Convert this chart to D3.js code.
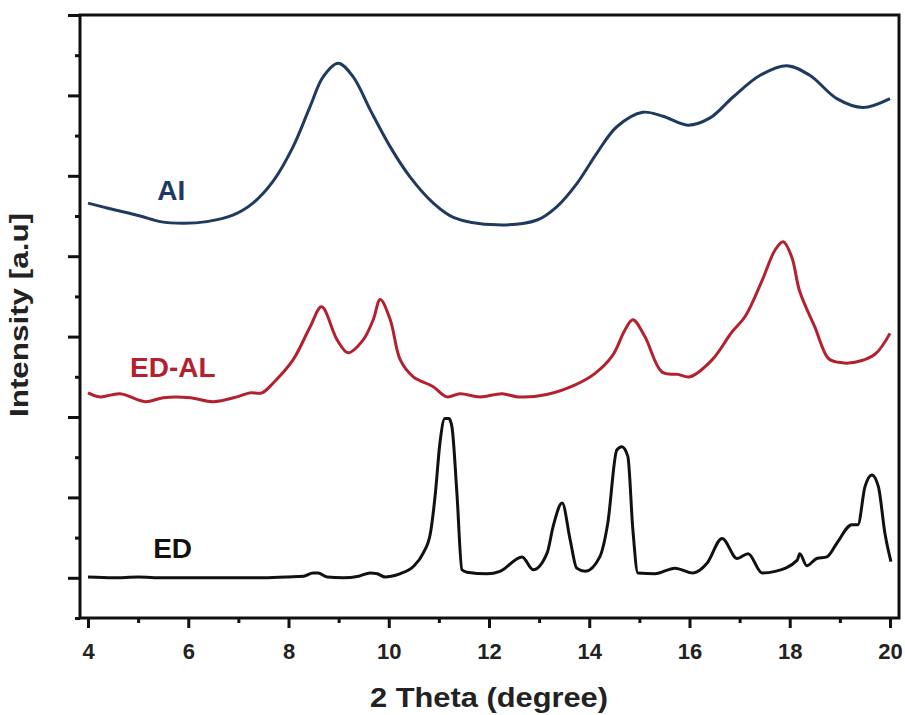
<!DOCTYPE html>
<html>
<head>
<meta charset="utf-8">
<script src="https://cdn.jsdelivr.net/npm/d3@7"></script>
<style>
  body { margin: 0; background: #fff; }
  #graf { width: 905px; height: 715px; }
  text { font-family: "Liberation Sans", Arial, sans-serif; font-weight: bold; }
</style>
</head>
<body>
<div id="graf"></div>
<script>
// I. Datos
series = ['AI', 'ED-AL', 'ED']

aiTheta = [4.0, 4.44, 5.04, 5.44, 5.9, 6.37, 6.89, 7.29, 7.69, 8.09, 8.43, 8.69, 8.99, 9.29, 9.63,
           10.03, 10.42, 10.89, 11.3, 12.16, 12.96, 13.36, 13.76, 14.15, 14.55, 15.07, 15.47, 15.97,
           16.41, 16.87, 17.41, 17.94, 18.4, 18.94, 19.46, 20.0]
aiInt   = [5.16, 5.09, 5.00, 4.93, 4.91, 4.93, 5.01, 5.16, 5.43, 5.86, 6.36, 6.73, 6.90, 6.73, 6.32,
           5.86, 5.49, 5.16, 4.98, 4.89, 4.95, 5.12, 5.41, 5.78, 6.11, 6.29, 6.24, 6.13,
           6.22, 6.48, 6.75, 6.87, 6.75, 6.46, 6.35, 6.46]

edalTheta = [4.0, 4.24, 4.64, 5.14, 5.5, 6.04, 6.5, 6.97, 7.23, 7.47, 7.69, 8.09, 8.43, 8.66, 8.97,
             9.19, 9.49, 9.69, 9.83, 10.03, 10.23, 10.49, 10.88, 11.16, 11.42, 11.82, 12.26, 12.58,
             13.15, 13.72, 14.11, 14.47, 14.71, 14.87, 15.11, 15.45, 15.77, 16.01, 16.45, 16.85,
             17.11, 17.45, 17.71, 17.87, 18.04, 18.2, 18.5, 18.77, 18.97, 19.3, 19.7, 20.0]
edalInt   = [2.80, 2.75, 2.79, 2.69, 2.74, 2.74, 2.69, 2.75, 2.80, 2.80, 2.92, 3.21, 3.62, 3.87, 3.46,
             3.30, 3.46, 3.71, 3.96, 3.71, 3.21, 3.00, 2.88, 2.75, 2.79, 2.75, 2.79, 2.75,
             2.78, 2.90, 3.04, 3.27, 3.58, 3.71, 3.50, 3.06, 3.03, 3.00, 3.21, 3.56,
             3.75, 4.20, 4.58, 4.68, 4.49, 4.06, 3.62, 3.23, 3.18, 3.18, 3.28, 3.54]

edTheta = [4.0, 4.5, 5.0, 5.5, 6.0, 6.5, 7.0, 7.5, 8.0, 8.3, 8.49, 8.59, 8.77, 9.09, 9.4, 9.63, 9.77,
           9.93, 10.05, 10.22, 10.49, 10.69, 10.83, 10.93, 11.02, 11.12, 11.2, 11.26, 11.36, 11.46,
           11.56, 11.96, 12.22, 12.66, 12.88, 13.16, 13.28, 13.46, 13.62, 13.75, 13.92, 14.21, 14.37,
           14.55, 14.65, 14.77, 14.87, 14.97, 15.31, 15.71, 16.07, 16.35, 16.65, 16.95, 17.17, 17.45,
           17.71, 18.15, 18.2, 18.34, 18.54, 18.74, 18.94, 19.24, 19.36, 19.5, 19.64, 19.77, 19.9, 20.02]
edInt   = [0.51, 0.50, 0.51, 0.50, 0.50, 0.50, 0.50, 0.50, 0.51, 0.52, 0.56, 0.56, 0.51, 0.50, 0.52, 0.56, 0.55,
           0.51, 0.52, 0.55, 0.64, 0.81, 1.05, 1.55, 2.17, 2.48, 2.48, 2.38, 1.55, 0.60,
           0.57, 0.55, 0.58, 0.76, 0.60, 0.81, 1.14, 1.43, 0.97, 0.62, 0.58, 0.76, 1.18,
           2.09, 2.13, 2.01, 1.10, 0.56, 0.55, 0.62, 0.56, 0.68, 0.99, 0.74, 0.80, 0.56,
           0.58, 0.72, 0.80, 0.65, 0.74, 0.76, 0.93, 1.16, 1.16, 1.63, 1.78, 1.63, 1.05, 0.70]

xMajor = [4, 6, 8, 10, 12, 14, 16, 18, 20]
xMinor = [5, 7, 9, 11, 13, 15, 17, 19]
yMajor = [0.5, 1.5, 2.5, 3.5, 4.5, 5.5, 6.5, 7.5]
yMinor = [0, 1, 2, 3, 4, 5, 6, 7]

xTitle = '2 Theta (degree)'
yTitle = 'Intensity [a.u]'

// II. Configuración
ancho_total = 905
alto_total = 715
margins = { top: 15, left: 80, right: 6, bottom: 97 }
ancho = ancho_total - margins.left - margins.right
alto = alto_total - margins.top - margins.bottom

colores = { 'AI': '#1f3a5e', 'ED-AL': '#b3202e', 'ED': '#111111' }
// curvas suaves para las amorfas, monótona para los picos finos
curvas = { 'AI': d3.curveCatmullRom.alpha(0.5), 'ED-AL': d3.curveCatmullRom.alpha(0.5), 'ED': d3.curveMonotoneX }

svg = d3.select('#graf').append('svg')
        .attr('width', ancho_total)
        .attr('height', alto_total)

g = svg.append('g')
       .attr('transform', `translate(${ margins.left }, ${ margins.top })`)

x = d3.scaleLinear().domain([3.84, 20.18]).range([0, ancho])
y = d3.scaleLinear().domain([0, 7.5]).range([alto, 0])

// III. Ejes
xAxisGroup = g.append('g').attr('transform', `translate(0, ${ alto })`)
xAxisGroup.call(d3.axisBottom(x).tickValues(xMajor).tickSize(10).tickSizeOuter(0).tickPadding(15))
xMinorGroup = g.append('g').attr('transform', `translate(0, ${ alto })`)
xMinorGroup.call(d3.axisBottom(x).tickValues(xMinor).tickSize(5).tickSizeOuter(0).tickFormat(''))

yAxisGroup = g.append('g')
yAxisGroup.call(d3.axisLeft(y).tickValues(yMajor).tickSize(12).tickSizeOuter(0).tickFormat(''))
yMinorGroup = g.append('g')
yMinorGroup.call(d3.axisLeft(y).tickValues(yMinor).tickSize(5).tickSizeOuter(0).tickFormat(''))

g.selectAll('.tick line').attr('stroke', '#111').attr('stroke-width', 3)
g.selectAll('.domain').attr('stroke', 'none')
xAxisGroup.selectAll('text')
          .attr('font-size', '22px')
          .attr('fill', '#222')

// marco
g.append('rect')
 .attr('x', 0).attr('y', 0)
 .attr('width', ancho).attr('height', alto)
 .attr('fill', 'none')
 .attr('stroke', '#111')
 .attr('stroke-width', 3)

// IV. Curvas
datos = [
  { nombre: 'AI', theta: aiTheta, val: aiInt },
  { nombre: 'ED-AL', theta: edalTheta, val: edalInt },
  { nombre: 'ED', theta: edTheta, val: edInt }
]

linea = d3.line()
          .x(d => x(d[0]))
          .y(d => y(d[1]))

g.selectAll('path.serie')
 .data(datos)
 .enter()
 .append('path')
   .attr('class', 'serie')
   .attr('d', d => linea.curve(curvas[d.nombre])(d3.zip(d.theta, d.val)))
   .attr('fill', 'none')
   .attr('stroke', d => colores[d.nombre])
   .attr('stroke-width', 3)
   .attr('stroke-linejoin', 'round')

// etiquetas de las curvas
posEtiqueta = { 'AI': [5.38, 5.2], 'ED-AL': [4.84, 3.0], 'ED': [5.3, 0.75] }
g.selectAll('text.etiqueta')
 .data(series)
 .enter()
 .append('text')
   .attr('class', 'etiqueta')
   .attr('x', d => x(posEtiqueta[d][0]))
   .attr('y', d => y(posEtiqueta[d][1]))
   .attr('font-size', '28px')
   .attr('fill', d => colores[d])
   .text(d => d)

// títulos de ejes
svg.append('text')
   .attr('x', 489)
   .attr('y', 707)
   .attr('text-anchor', 'middle')
   .attr('font-size', '28px')
   .attr('fill', '#222')
   .attr('textLength', 238)
   .attr('lengthAdjust', 'spacingAndGlyphs')
   .text(xTitle)

svg.append('text')
   .attr('transform', 'translate(28, 315) rotate(-90)')
   .attr('text-anchor', 'middle')
   .attr('font-size', '25px')
   .attr('fill', '#222')
   .attr('textLength', 204)
   .attr('lengthAdjust', 'spacingAndGlyphs')
   .text(yTitle)
</script>
</body>
</html>
